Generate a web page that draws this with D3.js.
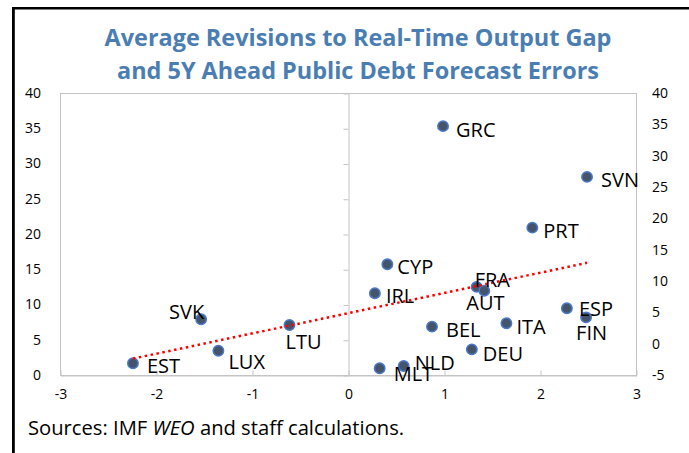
<!DOCTYPE html>
<html>
<head>
<meta charset="utf-8">
<script src="https://cdn.jsdelivr.net/npm/d3@7"></script>
<style>
  html, body { margin: 0; padding: 0; background: #fff; }
  svg { display: block; }
</style>
</head>
<body>
<div id="chart"></div>
<script>

const WIDTH = 689;
const HEIGHT = 453;

// Plot area, in page pixels.
const PLOT = {'left': 60, 'right': 636, 'top': 93, 'bottom': 375};

// Data.
var countries = ["EST", "SVK", "LUX", "LTU", "GRC", "SVN", "PRT", "CYP", "IRL",
                 "FRA", "AUT", "ESP", "FIN", "BEL", "ITA", "DEU", "NLD", "MLT"];
// average revision to the real-time output gap
var gapRevisions = [-2.24, -1.53, -1.35, -0.61, 0.99, 2.49, 1.92, 0.41, 0.28,
                    1.34, 1.42, 2.28, 2.48, 0.875, 1.65, 1.29, 0.58, 0.33];
// 5Y ahead public debt forecast error (left axis units)
var debtErrors = [1.66, 7.9, 3.45, 7.09, 35.3, 28.1, 20.9, 15.7, 11.6,
                  12.5, 11.96, 9.46, 8.18, 6.86, 7.33, 3.64, 1.28, 0.95];

var xTicks = [-3, -2, -1, 0, 1, 2, 3];
var leftTicks = [0, 5, 10, 15, 20, 25, 30, 35, 40];
var rightTicks = [-5, 0, 5, 10, 15, 20, 25, 30, 35, 40];

// label placement (text start / vertical centre relative to the marker)
var labelOffset = {
    'GRC': [13, 4], 'SVN': [14, 3], 'PRT': [11, 3], 'CYP': [10, 2], 'IRL': [11, 3],
    'FRA': [-2, -7], 'AUT': [-18, 12], 'ESP': [12, 0], 'FIN': [-10, 15], 'BEL': [14, 3],
    'ITA': [10, 3], 'DEU': [11, 4], 'NLD': [11, -3], 'MLT': [14, 5], 'EST': [14, 3],
    'SVK': [-32, -8], 'LUX': [10, 11], 'LTU': [-4, 17]
};

const FONT = "'Open Sans', 'Noto Sans', sans-serif";


window.onload = function() {

    var svg = d3.select("#chart").append("svg")
                .attr("width", WIDTH)
                .attr("height", HEIGHT)
                .style("font-family", FONT);

    // frame (left and top rule)
    svg.append("rect").attr("x", 12).attr("y", 7).attr("width", WIDTH - 12).attr("height", 2.5).attr("fill", "#000");
    svg.append("rect").attr("x", 12).attr("y", 7).attr("width", 2.8).attr("height", HEIGHT - 7).attr("fill", "#000");

    var x = d3.scaleLinear().domain([-3, 3]).range([PLOT.left, PLOT.right]);
    var yLeft = d3.scaleLinear().domain([0, 40]).range([PLOT.bottom, PLOT.top]);
    var yRight = d3.scaleLinear().domain([-5, 40]).range([PLOT.bottom, PLOT.top]);

    // title
    var title = svg.append("text")
                   .attr("text-anchor", "middle")
                   .attr("fill", "#4a7eb3")
                   .attr("font-weight", 700);
    title.append("tspan").attr("x", 358).attr("y", 46).text("Average Revisions to Real-Time Output Gap");
    title.append("tspan").attr("x", 358).attr("y", 79).text("and 5Y Ahead Public Debt Forecast Errors");
    title.attr("font-size", 22);
    var w = title.select("tspan").node().getComputedTextLength();
    title.attr("font-size", 22 * 507 / w);

    // plot area border
    svg.append("rect")
       .attr("x", PLOT.left + 0.5).attr("y", PLOT.top + 0.5)
       .attr("width", PLOT.right - PLOT.left).attr("height", PLOT.bottom - PLOT.top)
       .attr("fill", "none").attr("stroke", "#c4c4c4").attr("stroke-width", 1);

    // x axis (sits on the bottom edge, ticks point up)
    var xAxis = svg.append("g")
       .attr("transform", "translate(0.5," + (PLOT.bottom + 0.5) + ")")
       .call(d3.axisBottom(x).tickValues(xTicks).tickSize(-5).tickSizeOuter(0).tickPadding(14)
             .tickFormat(function (d) { return d; }));
    xAxis.select(".domain").attr("stroke", "#c4c4c4");
    xAxis.selectAll(".tick line").attr("stroke", "#c4c4c4");
    xAxis.selectAll("text").attr("font-size", 14).attr("fill", "#000").attr("font-family", FONT);

    // vertical axis line at x = 0, ticks to the left
    var yAxis = svg.append("g")
       .attr("transform", "translate(" + (x(0) + 0.5) + ",0.5)")
       .call(d3.axisLeft(yLeft).tickValues(leftTicks).tickSize(5).tickSizeOuter(0).tickFormat(""));
    yAxis.select(".domain").attr("stroke", "#c4c4c4");
    yAxis.selectAll(".tick line").attr("stroke", "#c4c4c4");

    // left tick labels at the plot edge
    svg.append("g").selectAll("text")
       .data(leftTicks).enter().append("text")
       .attr("x", 41).attr("y", function (d) { return yLeft(d); })
       .attr("dy", "0.35em")
       .attr("text-anchor", "end")
       .attr("font-size", 14)
       .text(function (d) { return d; });

    // right axis labels
    svg.append("g").selectAll("text")
       .data(rightTicks).enter().append("text")
       .attr("x", 652).attr("y", function (d) { return yRight(d); })
       .attr("dy", "0.35em")
       .attr("text-anchor", "start")
       .attr("font-size", 14)
       .text(function (d) { return d; });

    var points = countries.map(function (c, i) {
        return {'name': c, 'x': gapRevisions[i], 'y': debtErrors[i]};
    });

    // markers
    svg.append("g").selectAll("circle")
       .data(points).enter().append("circle")
       .attr("cx", function (d) { return x(d.x); })
       .attr("cy", function (d) { return yLeft(d.y); })
       .attr("r", 5.2)
       .attr("fill", "#44546a")
       .attr("stroke", "#4a78c8")
       .attr("stroke-width", 1.5);

    // linear trend line (least squares)
    var mx = d3.mean(points, function (d) { return d.x; });
    var my = d3.mean(points, function (d) { return d.y; });
    var sxy = d3.sum(points, function (d) { return (d.x - mx) * (d.y - my); });
    var sxx = d3.sum(points, function (d) { return (d.x - mx) * (d.x - mx); });
    var slope = sxy / sxx;
    var intercept = my - slope * mx;
    var ext = d3.extent(points, function (d) { return d.x; });

    svg.append("line")
       .attr("x1", x(ext[0])).attr("y1", yLeft(intercept + slope * ext[0]))
       .attr("x2", x(ext[1])).attr("y2", yLeft(intercept + slope * ext[1]))
       .attr("stroke", "#ff0000")
       .attr("stroke-width", 2.5)
       .attr("stroke-dasharray", "2.5,3.5");

    // labels
    svg.append("g").selectAll("text")
       .data(points).enter().append("text")
       .attr("x", function (d) { return x(d.x) + labelOffset[d.name][0]; })
       .attr("y", function (d) { return yLeft(d.y) + labelOffset[d.name][1]; })
       .attr("dy", "0.36em")
       .attr("font-size", 20)
       .attr("fill", "#000")
       .text(function (d) { return d.name; });

    // source note
    var src = svg.append("text")
                 .attr("x", 28).attr("y", 435)
                 .attr("font-size", 20.2);
    src.append("tspan").text("Sources: IMF ");
    src.append("tspan").attr("font-style", "italic").text("WEO");
    src.append("tspan").text(" and staff calculations.");
};

</script>
</body>
</html>
